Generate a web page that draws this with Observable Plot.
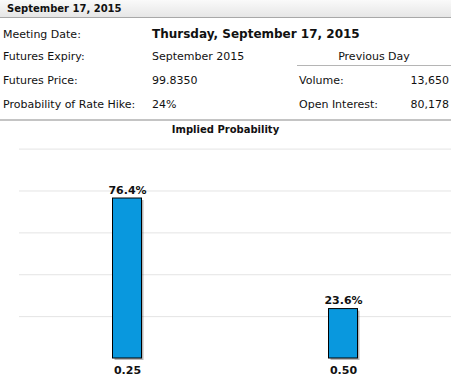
<!DOCTYPE html>
<html>
<head>
<meta charset="utf-8">
<script src="https://cdn.jsdelivr.net/npm/d3@7"></script>
<script src="https://cdn.jsdelivr.net/npm/@observablehq/plot@0.6"></script>
<style>
  body { margin: 0; width: 451px; height: 379px; overflow: hidden; background: #fff;
         font-family: "DejaVu Sans", Verdana, sans-serif; font-size: 11px; color: #111; position: relative; }
  .abs { position: absolute; white-space: nowrap; line-height: 1; }
  #hdr { position: absolute; left: 0; top: 0; width: 451px; height: 17px;
         background: linear-gradient(#fafafa, #e6e6e6); border-bottom: 1px solid #a8a8a8; }
  #chart { position: absolute; left: 0; top: 122px; }
</style>
</head>
<body>
<div id="hdr"></div>
<div id="page"></div>
<div id="chart"></div>
<script>
// ---- data ----
const headerTitle = "September 17, 2015";
const meetingDate = "Thursday, September 17, 2015";
const infoLabels = ["Meeting Date:", "Futures Expiry:", "Futures Price:", "Probability of Rate Hike:"];
const infoValues = [null, "September 2015", "99.8350", "24%"];
const prevDayTitle = "Previous Day";
const prevLabels = ["Volume:", "Open Interest:"];
const prevValues = ["13,650", "80,178"];
const chartTitle = "Implied Probability";
const targetRates = ["0.25", "0.50"];
const probabilities = [76.4, 23.6];
const yTicks = [20, 40, 60, 80, 100];

// ---- header / info table ----
const page = document.getElementById("page");
function txt(s, x, y, extra = {}) {
  const d = document.createElement("div");
  d.className = "abs";
  d.textContent = s;
  d.style.left = x + "px";
  d.style.top = y + "px";
  Object.assign(d.style, extra);
  page.appendChild(d);
  return d;
}
txt(headerTitle, 7, 4, {fontWeight: "bold", fontSize: "10px"});
const rowY = [29, 51, 75, 99];
infoLabels.forEach((l, i) => txt(l, 3, rowY[i]));
txt(meetingDate, 152, 28, {fontWeight: "bold", fontSize: "12px"});
infoValues.forEach((v, i) => { if (v) txt(v, 152, rowY[i]); });
txt(prevDayTitle, 297, 51, {width: "154px", textAlign: "center"});
const l1 = document.createElement("div");
Object.assign(l1.style, {position: "absolute", left: "297px", top: "65px", width: "154px", height: "1px", background: "#b5b5b5"});
page.appendChild(l1);
prevLabels.forEach((l, i) => txt(l, 299, rowY[i + 2]));
prevValues.forEach((v, i) => txt(v, 0, rowY[i + 2], {left: "auto", right: "2px"}));
const l2 = document.createElement("div");
Object.assign(l2.style, {position: "absolute", left: "0px", top: "119px", width: "451px", height: "2px", background: "#c4c4c4"});
page.appendChild(l2);
txt(chartTitle, 0, 125, {width: "451px", textAlign: "center", fontWeight: "bold", fontSize: "10px"});

// ---- chart ----
const data = targetRates.map((r, i) => ({rate: r, p: probabilities[i]}));
const inset = 93.5;
const chart = Plot.plot({
  width: 451,
  height: 257,
  marginTop: 26.6,
  marginBottom: 21,
  marginLeft: 19,
  marginRight: 0,
  style: {fontFamily: "DejaVu Sans, Verdana, sans-serif", fontSize: "11px", color: "#111", background: "transparent"},
  x: {type: "band", domain: targetRates, padding: 0},
  y: {domain: [0, 100], axis: null},
  marks: [
    Plot.gridY(yTicks, {stroke: "#e4e4e4", strokeOpacity: 1}),
    Plot.barY(data, {x: "rate", y: "p", insetLeft: inset, insetRight: inset, dx: 2, dy: 2, fill: "#000", fillOpacity: 0.28}),
    Plot.barY(data, {x: "rate", y: "p", insetLeft: inset, insetRight: inset, fill: "#0998de", stroke: "#000", strokeWidth: 1}),
    Plot.text(data, {x: "rate", y: "p", text: d => d.p.toFixed(1) + "%", lineAnchor: "bottom", dy: -5, fontWeight: "bold", fontSize: 11, fill: "#111"}),
    Plot.axisX({tickSize: 0, tickPadding: 8, fontWeight: "bold", fontSize: 11, label: null})
  ]
});
document.getElementById("chart").appendChild(chart);
</script>
</body>
</html>
